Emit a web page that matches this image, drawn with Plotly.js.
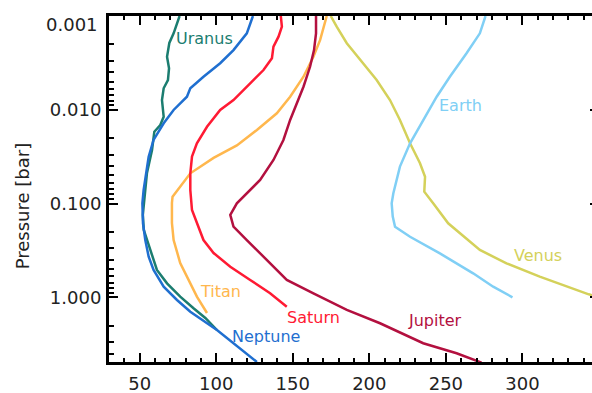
<!DOCTYPE html>
<html>
<head>
<meta charset="utf-8">
<script src="https://cdn.plot.ly/plotly-3.0.1.min.js"></script>
<style>
html,body{margin:0;padding:0;overflow:hidden;background:#fff;width:592px;height:393px;}
#chart{width:612px;height:393px;}
</style>
</head>
<body>
<div id="chart"></div>
<script>
// Temperature [K] vs pressure [bar]
const uranusT = [76.1,72.2,69.4,67.9,69.2,68.5,65.7,64.6,65.7,63.5,59.6,58.1,54.8,53.1,52.1,52.7,54.8,58.1,61.3,67.9,76.5,85.2,92.9,100.5];
const uranusP = [0.001,0.00153,0.00194,0.00272,0.00361,0.00482,0.0059,0.00787,0.01186,0.01453,0.01713,0.02686,0.0472,0.0916,0.1324,0.191,0.245,0.369,0.511,0.710,0.984,1.309,1.662,2.233];

const neptuneT = [124.0,120.0,111.3,102.6,91.7,83.1,80.9,72.2,65.7,59.1,55.9,53.7,52.6,51.8,52.2,53.7,55.9,59.1,65.7,74.4,83.1,100.5,126.6];
const neptuneP = [0.001,0.00153,0.00231,0.00319,0.00444,0.0059,0.00726,0.01005,0.01393,0.0210,0.0317,0.0518,0.0718,0.0994,0.1625,0.245,0.369,0.511,0.771,1.069,1.424,2.233,4.9];

const titanT = [172.2,167.9,163.5,157.0,148.3,139.6,126.6,113.5,98.3,83.1,71.5,71.1,71.1,72.2,76.5,83.1,87.4,94.0];
const titanP = [0.001,0.0018,0.00272,0.00444,0.00726,0.0109,0.01643,0.024,0.0326,0.0476,0.0845,0.0986,0.1614,0.245,0.431,0.703,0.984,1.47];

const saturnT = [142.2,142.9,140.7,137.4,136.4,130.9,122.2,111.3,102.6,94.0,87.4,84.2,83.1,83.1,84.2,87.4,91.7,98.3,109.2,122.2,135.2,146.1];
const saturnP = [0.001,0.0013,0.00166,0.00212,0.00282,0.00377,0.00522,0.00787,0.01005,0.0152,0.0228,0.0316,0.0476,0.0718,0.1173,0.1614,0.245,0.337,0.472,0.653,0.906,1.259];

const jupiterT = [165.2,165.2,163.9,161.3,157.0,152.7,148.3,143.9,137.4,128.7,122.2,115.7,113.5,109.2,111.3,120.0,133.1,146.1,163.5,185.3,207.0,235.2,257.0,273.3];
const jupiterP = [0.001,0.00153,0.00231,0.00348,0.00568,0.00853,0.01285,0.0210,0.0343,0.0561,0.0718,0.0916,0.0994,0.1324,0.1766,0.245,0.400,0.653,0.906,1.365,1.893,3.09,3.95,4.98];

const venusT = [174.8,178.7,185.3,193.9,204.8,213.5,220.0,226.6,233.1,236.4,235.9,241.7,251.5,272.2,289.6,311.3,343.3,360.0];
const venusP = [0.001,0.0013,0.00195,0.00294,0.00482,0.00787,0.01285,0.0228,0.0372,0.0518,0.0748,0.0994,0.1625,0.313,0.434,0.602,0.93,1.1];

const earthT = [275.9,272.2,263.5,252.6,244.0,235.2,226.6,220.0,215.7,214.6,215.3,216.8,226.6,246.1,267.8,280.9,293.5];
const earthP = [0.001,0.00153,0.0025,0.00444,0.00726,0.01285,0.0228,0.0404,0.0778,0.0994,0.138,0.1766,0.226,0.340,0.555,0.771,1.0];

const names = ["Uranus","Neptune","Titan","Saturn","Jupiter","Venus","Earth"];
const colors = ["#1b7d70","#1f6fd0","#ffb74d","#ff1a33","#b3103f","#d4d15a","#80cff5"];
const seriesT = [uranusT,neptuneT,titanT,saturnT,jupiterT,venusT,earthT];
const seriesP = [uranusP,neptuneP,titanP,saturnP,jupiterP,venusP,earthP];

const yTickVals = [0.001,0.01,0.1,1];
const yTickText = ["0.001","0.010","0.100","1.000"];
const xTickVals = [50,100,150,200,250,300,350];
const xTickText = ["50","100","150","200","250","300","350"];
const refPressure = 0.1;
const yTitle = "Pressure [bar]";

const traces = names.map((n,i)=>({
  type:'scatter', mode:'lines', name:n,
  x: seriesT[i], y: seriesP[i],
  line:{color:colors[i], width:2.5},
  hoverinfo:'skip'
}));

// label positions (T, p)
const labels = [
  {t:"Uranus", x:92.2, y:0.00172, c:colors[0]},
  {t:"Neptune", x:132.7, y:2.65, c:colors[1]},
  {t:"Titan", x:102.7, y:0.857, c:colors[2]},
  {t:"Saturn", x:163.4, y:1.66, c:colors[3]},
  {t:"Jupiter", x:243, y:1.75, c:colors[4]},
  {t:"Venus", x:310, y:0.354, c:colors[5]},
  {t:"Earth", x:259.3, y:0.0089, c:colors[6]}
];

// top y tick label drawn slightly lowered, as in the reference
const yTickTextShown = yTickText.map((t,i)=> i===0 ? '' : t);

const annots = labels.map(l=>({
  text:l.t, x:l.x, y:Math.log10(l.y), xref:'x', yref:'y',
  showarrow:false, font:{size:16, color:l.c}, xanchor:'center', yanchor:'middle'
}));
annots.push({
  text:yTickText[0], xref:'paper', x:0, yref:'y', y:Math.log10(yTickVals[0]),
  xanchor:'right', yanchor:'middle', xshift:-9, yshift:-8, showarrow:false,
  font:{size:18, color:'#222'}
});
// y-axis title
annots.push({
  text:yTitle, xref:'paper', x:0, yref:'paper', y:0.45,
  xanchor:'center', yanchor:'middle', xshift:-87, showarrow:false, textangle:-90,
  font:{size:18, color:'#222'}
});

const layout = {
  width:612, height:393,
  margin:{l:109, r:13, t:16, b:31},
  paper_bgcolor:'#fff', plot_bgcolor:'#fff',
  showlegend:false,
  font:{family:'DejaVu Sans', size:18, color:'#222'},
  xaxis:{
    range:[30,350], showgrid:false, zeroline:false,
    showline:true, linecolor:'black', linewidth:3, mirror:'allticks',
    ticks:'inside', ticklen:9, tickwidth:2, tickcolor:'black',
    tickmode:'array', tickvals:xTickVals, ticktext:xTickText,
    ticklabelstandoff:3,
    minor:{dtick:10, ticks:'inside', ticklen:4, tickwidth:2, tickcolor:'black', showgrid:false}
  },
  yaxis:{
    type:'log', range:[Math.log10(4.9), -3], showgrid:false, zeroline:false,
    showline:true, linecolor:'black', linewidth:3, mirror:'allticks',
    ticks:'inside', ticklen:9, tickwidth:2, tickcolor:'black',
    tickmode:'array', tickvals:yTickVals, ticktext:yTickTextShown,
    ticklabelstandoff:1,
    minor:{dtick:'D1', ticks:'inside', ticklen:5, tickwidth:2, tickcolor:'black', showgrid:false}
  },
  shapes:[{
    type:'line', xref:'paper', x0:0, x1:1, yref:'y',
    y0:Math.log10(refPressure), y1:Math.log10(refPressure),
    line:{color:'black', width:3, dash:'dot'}
  }],
  annotations: annots
};

Plotly.newPlot('chart', traces, layout, {staticPlot:true, displayModeBar:false});
</script>
</body>
</html>
